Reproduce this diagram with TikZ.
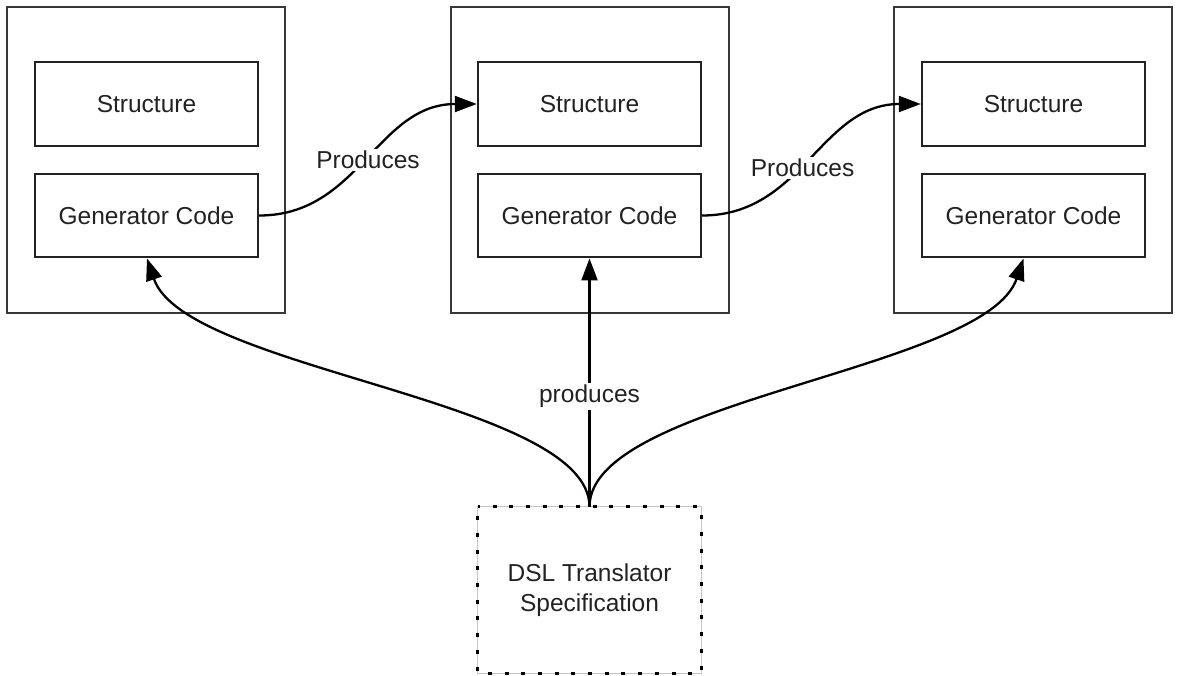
\documentclass[tikz,border=0pt]{standalone}
\usepackage{fontspec}
\setmainfont{Liberation Sans}
\usetikzlibrary{arrows.meta}
\definecolor{ink}{HTML}{222222}
\tikzset{
  outerbox/.style={draw=ink!90, line width=1.4pt, minimum width=278pt, minimum height=306pt, inner sep=0pt},
  partbox/.style={draw=ink, line width=2.4pt, minimum width=223pt, minimum height=83.5pt, inner sep=0pt,
    font=\fontsize{24.5}{29}\selectfont, text=ink},
  specbox/.style={minimum width=223pt, minimum height=166pt, inner sep=0pt, align=center,
    font=\fontsize{24.5}{29.5}\selectfont, text=ink},
  flow/.style={draw=black, line width=2.3pt, -{Triangle[length=22pt,width=16pt]}},
  flowlabel/.style={fill=white, inner xsep=4pt, inner ysep=2pt, text=ink,
    font=\fontsize{24.5}{29}\selectfont},
}
\begin{document}
\begin{tikzpicture}[x=1pt, y=-1pt]
  \useasboundingbox (0,0) rectangle (1177,675);

  % three stages, each holding a structure and its generator code
  \node[outerbox] (stageL) at (146,160) {};
  \node[outerbox] (stageM) at (590,160) {};
  \node[outerbox] (stageR) at (1033,160) {};

  \node[partbox] (structL) at (146.5,104) {Structure};
  \node[partbox] (genL)    at (146.5,215.5) {Generator Code};
  \node[partbox] (structM) at (589.5,104) {Structure};
  \node[partbox] (genM)    at (589.5,215.5) {Generator Code};
  \node[partbox] (structR) at (1033.5,104) {Structure};
  \node[partbox] (genR)    at (1033.5,215.5) {Generator Code};

  % translator specification (dashed outline over a faint solid one)
  \node[specbox] (spec) at (589.5,590) {DSL Translator\\Specification};
  \draw[gray!45, line width=0.8pt] (spec.north west) rectangle (spec.south east);
  \draw[black, line width=3pt, dash pattern=on 4pt off 12.7pt, dash phase=2pt]
    (spec.north west) -- (spec.north east) -- (spec.south east) -- (spec.south west) -- cycle;

  % each generator produces the next structure
  \draw[flow] (genL.east) .. controls +(100,0) and +(-100,0) .. (structM.west)
    node[flowlabel, pos=0.5] {Produces};
  \draw[flow] (genM.east) .. controls +(100,0) and +(-100,0) .. (structR.west)
    node[flowlabel, pos=0.45] {Produces};

  % the specification produces every generator
  \draw[flow] (spec.north) .. controls +(0,-107) and +(38,112) .. ([xshift=0.5pt]genL.south);
  \draw[flow] (spec.north) .. controls +(0,-107) and +(-38,112) .. ([xshift=-10pt]genR.south);
  \draw[flow] (spec.north) -- (genM.south)
    node[flowlabel, pos=0.444] {produces};
\end{tikzpicture}
\end{document}
